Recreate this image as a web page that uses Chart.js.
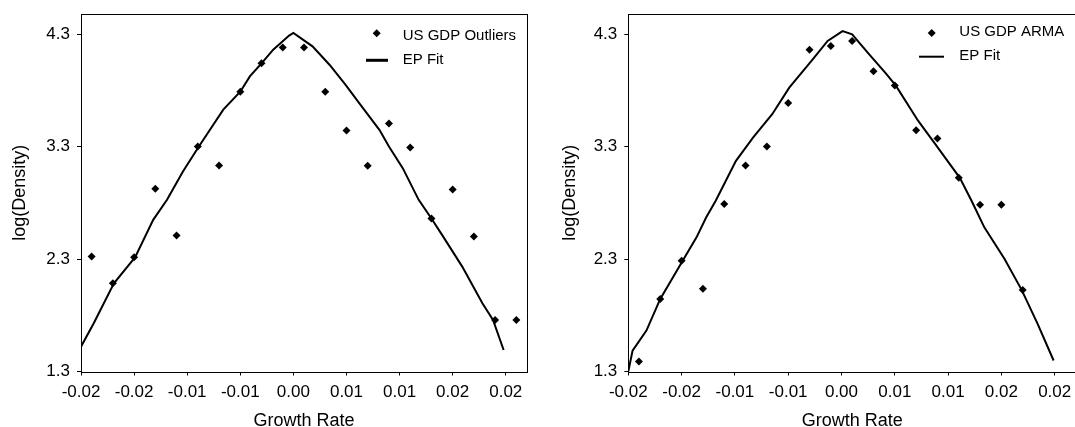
<!DOCTYPE html>
<html>
<head>
<meta charset="utf-8">
<script src="https://cdn.jsdelivr.net/npm/chart.js@4.4.1/dist/chart.umd.min.js"></script>
<style>
  html, body { margin: 0; padding: 0; background: #fff; overflow: hidden; }
  body { width: 1075px; height: 427px; position: relative; }
  .panel { position: absolute; top: 0; width: 540px; height: 440px; }
  #left { left: 0; }
  #right { left: 540px; }
</style>
</head>
<body>
<div class="panel" id="left"><canvas id="c1" width="540" height="440"></canvas></div>
<div class="panel" id="right"><canvas id="c2" width="540" height="440"></canvas></div>
<script>
// ---- data ----
const xTickValues = [-0.02, -0.015, -0.01, -0.005, 0, 0.005, 0.01, 0.015, 0.02];
const xTickLabels = ['-0.02', '-0.02', '-0.01', '-0.01', '0.00', '0.01', '0.01', '0.02', '0.02'];
const yTickValues = [1.3, 2.3, 3.3, 4.3];
const yTickLabels = ['1.3', '2.3', '3.3', '4.3'];

// US GDP Outliers: empirical log density
const outliersX = [-0.019, -0.017, -0.015, -0.013, -0.011, -0.009, -0.007, -0.005, -0.003, -0.001,
                   0.001, 0.003, 0.005, 0.007, 0.009, 0.011, 0.013, 0.015, 0.017, 0.019, 0.021];
const outliersY = [2.322, 2.085, 2.317, 2.925, 2.509, 3.302, 3.133, 3.789, 4.041, 4.183,
                   4.183, 3.789, 3.444, 3.130, 3.507, 3.293, 2.661, 2.919, 2.500, 1.759, 1.759];

// EP fit for the outlier series
const fit1X = [-0.0200, -0.0188, -0.0169, -0.0149, -0.0132, -0.0119, -0.0104, -0.0089, -0.0066,
               -0.0050, -0.0041, -0.0030, -0.0019, -0.0004, 0.0000, 0.0018, 0.0034, 0.0049,
               0.0062, 0.0081, 0.0090, 0.0103, 0.0118, 0.0130, 0.0140, 0.0159, 0.0178, 0.0188, 0.0198];
const fit1Y = [1.521, 1.729, 2.085, 2.317, 2.649, 2.827, 3.079, 3.302, 3.629,
               3.789, 3.925, 4.041, 4.163, 4.288, 4.312, 4.192, 4.029, 3.851,
               3.688, 3.450, 3.302, 3.109, 2.827, 2.661, 2.515, 2.233, 1.907, 1.759, 1.491];

// US GDP ARMA: empirical log density
const armaX = [-0.019, -0.017, -0.015, -0.013, -0.011, -0.009, -0.007, -0.005, -0.003, -0.001,
               0.001, 0.003, 0.005, 0.007, 0.009, 0.011, 0.013, 0.015, 0.017];
const armaY = [1.389, 1.946, 2.286, 2.037, 2.789, 3.132, 3.301, 3.689, 4.162, 4.195,
               4.240, 3.970, 3.843, 3.447, 3.372, 3.023, 2.783, 2.783, 2.026];

// EP fit for the ARMA series
const fit2X = [-0.0200, -0.0196, -0.0183, -0.0170, -0.0149, -0.0136, -0.0127, -0.0118, -0.0099,
               -0.0083, -0.0065, -0.0049, -0.0027, -0.0013, 0.0001, 0.0010, 0.0026, 0.0041,
               0.0051, 0.0072, 0.0088, 0.0111, 0.0122, 0.0134, 0.0153, 0.0169, 0.0184, 0.0199];
const fit2Y = [1.300, 1.486, 1.664, 1.946, 2.286, 2.493, 2.670, 2.819, 3.174,
               3.381, 3.589, 3.825, 4.077, 4.240, 4.328, 4.299, 4.121, 3.958,
               3.843, 3.529, 3.322, 3.023, 2.819, 2.582, 2.301, 2.026, 1.724, 1.398];

const FONT = '"Liberation Sans", Arial, Helvetica, sans-serif';
const zip = (xs, ys) => xs.map((x, i) => ({ x: x, y: ys[i] }));

// frame around the plotting area
const framePlugin = {
  id: 'frame',
  afterDraw(chart) {
    const { ctx, chartArea: a } = chart;
    ctx.save();
    ctx.strokeStyle = '#000';
    ctx.lineWidth = 1;
    ctx.strokeRect(Math.round(a.left) + 0.5, Math.round(a.top) + 0.5,
                   Math.round(a.right - a.left), Math.round(a.bottom - a.top));
    ctx.restore();
  }
};

// legend block: marker entry then line entry
const legendPlugin = {
  id: 'boxLegend',
  afterDraw(chart, args, o) {
    const { ctx } = chart;
    const ds = chart.data.datasets;
    ctx.save();
    ctx.fillStyle = '#000';
    ctx.strokeStyle = '#000';
    // diamond marker
    const r = 4;
    ctx.beginPath();
    ctx.moveTo(o.markerX, o.row1 - r);
    ctx.lineTo(o.markerX + r, o.row1);
    ctx.lineTo(o.markerX, o.row1 + r);
    ctx.lineTo(o.markerX - r, o.row1);
    ctx.closePath();
    ctx.fill();
    // line sample
    ctx.lineWidth = o.lineW;
    ctx.beginPath();
    ctx.moveTo(o.lineX0, o.row2);
    ctx.lineTo(o.lineX1, o.row2);
    ctx.stroke();
    // labels
    ctx.font = '15px ' + FONT;
    ctx.textBaseline = 'middle';
    ctx.textAlign = 'left';
    ctx.fillText(ds[0].label, o.textX, o.text1);
    ctx.fillText(ds[1].label, o.textX, o.text2);
    ctx.restore();
  }
};

function clearScalePadding(s) {
  s.paddingTop = 0;
  s.paddingBottom = 0;
  s.paddingLeft = 0;
  s.paddingRight = 0;
}

function makeChart(id, pts, fit, label, yAxisWidth, yTitlePad, rightPad, legendOpts) {
  return new Chart(document.getElementById(id), {
    type: 'scatter',
    data: {
      datasets: [
        {
          label: label,
          data: pts,
          pointStyle: 'rectRot',
          pointRadius: 4,
          pointHoverRadius: 4,
          backgroundColor: '#000',
          borderColor: '#000',
          borderWidth: 0,
          showLine: false
        },
        {
          label: 'EP Fit',
          data: fit,
          showLine: true,
          pointRadius: 0,
          borderColor: '#000',
          borderWidth: 2,
          tension: 0,
          fill: false
        }
      ]
    },
    options: {
      responsive: false,
      animation: false,
      devicePixelRatio: 1,
      layout: { padding: { top: 14, right: rightPad, left: 0, bottom: 0 } },
      plugins: {
        legend: { display: false },
        tooltip: { enabled: false },
        boxLegend: legendOpts
      },
      scales: {
        x: {
          type: 'linear',
          min: -0.02,
          max: 0.022,
          afterBuildTicks(s) { s.ticks = xTickValues.map(v => ({ value: v })); },
          afterFit(s) { s.height = 440 - 371.5; clearScalePadding(s); },
          ticks: {
            autoSkip: false,
            maxRotation: 0,
            padding: 7,
            color: '#000',
            font: { family: FONT, size: 17 },
            callback: (v, i) => xTickLabels[i]
          },
          grid: { drawOnChartArea: false, drawTicks: true, tickLength: 4, color: '#000', tickWidth: 1 },
          border: { display: false },
          title: {
            display: true,
            text: 'Growth Rate',
            color: '#000',
            font: { family: FONT, size: 18 },
            padding: { top: 0, bottom: 8 }
          }
        },
        y: {
          type: 'linear',
          min: 1.3,
          max: 4.48,
          afterBuildTicks(s) { s.ticks = yTickValues.map(v => ({ value: v })); },
          afterFit(s) { s.width = yAxisWidth; clearScalePadding(s); },
          ticks: {
            autoSkip: false,
            padding: 7,
            color: '#000',
            font: { family: FONT, size: 17 },
            callback: (v, i) => yTickLabels[i]
          },
          grid: { drawOnChartArea: false, drawTicks: true, tickLength: 4, color: '#000', tickWidth: 1 },
          border: { display: false },
          title: {
            display: true,
            text: 'log(Density)',
            color: '#000',
            font: { family: FONT, size: 18 },
            padding: { top: yTitlePad, bottom: 0 }
          }
        }
      }
    },
    plugins: [framePlugin, legendPlugin]
  });
}

makeChart('c1', zip(outliersX, outliersY), zip(fit1X, fit1Y), 'US GDP Outliers', 81, 9, 13,
  { markerX: 376.7, row1: 33.3, text1: 36, row2: 60.3, text2: 60.3,
    lineX0: 366, lineX1: 388, lineW: 3, textX: 402.7 });

makeChart('c2', zip(armaX, armaY), zip(fit2X, fit2Y), 'US GDP ARMA', 88.3, 19, 2.3,
  { markerX: 391.7, row1: 33, text1: 32, row2: 56.7, text2: 56.3,
    lineX0: 379, lineX1: 404, lineW: 2, textX: 419.3 });
</script>
</body>
</html>
